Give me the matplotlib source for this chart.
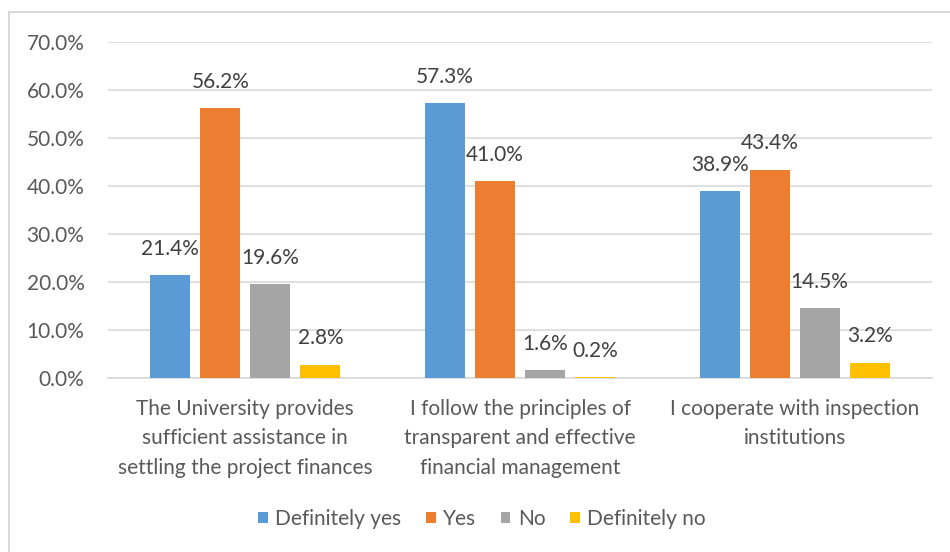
import matplotlib.pyplot as plt
from matplotlib.patches import Rectangle
import numpy as np

plt.rcParams['font.family'] = ['Lato', 'DejaVu Sans']

categories = [
    "The University provides\nsufficient assistance in\nsettling the project finances",
    "I follow the principles of\ntransparent and effective\nfinancial management",
    "I cooperate with inspection\ninstitutions",
]
series_names = ["Definitely yes", "Yes", "No", "Definitely no"]
definitely_yes = [21.4, 57.3, 38.9]
yes = [56.2, 41.0, 43.4]
no = [19.6, 1.6, 14.5]
definitely_no = [2.8, 0.2, 3.2]
colors = ["#5B9BD5", "#ED7D31", "#A5A5A5", "#FFC000"]

values = [definitely_yes, yes, no, definitely_no]
fs = 15

fig = plt.figure(figsize=(9.5, 5.52), dpi=100)
ax = fig.add_axes([108 / 950, 1 - 378 / 552, 824 / 950, 336 / 552])

x = np.arange(len(categories))
width = 0.146
step = 0.182
for i, (name, vals, c) in enumerate(zip(series_names, values, colors)):
    pos = x + (i - 1.5) * step
    bars = ax.bar(pos, vals, width, color=c, label=name, zorder=3)
    for b, v in zip(bars, vals):
        ax.annotate(f"{v:.1f}%", (b.get_x() + b.get_width() / 2, v),
                    xytext=(0, 19), textcoords="offset points",
                    ha="center", va="center", fontsize=fs, color="#404040")

ax.set_xlim(-0.5, 2.5)
ax.set_ylim(0, 70)
ax.set_yticks(np.arange(0, 71, 10))
ax.set_yticklabels([f"{t:.1f}%" for t in np.arange(0, 71, 10)])
ax.set_xticks(x)
ax.set_xticklabels(categories, linespacing=1.6)
ax.tick_params(axis="y", length=0, pad=17, labelsize=fs, labelcolor="#595959")
ax.tick_params(axis="x", length=0, pad=15, labelsize=fs, labelcolor="#595959")
ax.grid(axis="y", color="#D9D9D9", linewidth=1.2, zorder=0)
for s in ["top", "right", "left"]:
    ax.spines[s].set_visible(False)
ax.spines["bottom"].set_color("#D9D9D9")
ax.spines["bottom"].set_linewidth(1.2)

fig.legend(loc="center", bbox_to_anchor=(482 / 950, 1 - 519 / 552), ncol=4,
           frameon=False, fontsize=fs, handlelength=0.45, handleheight=0.45,
           handletextpad=0.35, columnspacing=1.2, labelcolor="#595959")

# chart border
fig.patches.append(Rectangle((9 / 950, -0.1), 1.2, 1.1 - 12 / 552,
                             transform=fig.transFigure, fill=False,
                             edgecolor="#D9D9D9", linewidth=1.5))

fig.savefig("out.png", dpi=100)
